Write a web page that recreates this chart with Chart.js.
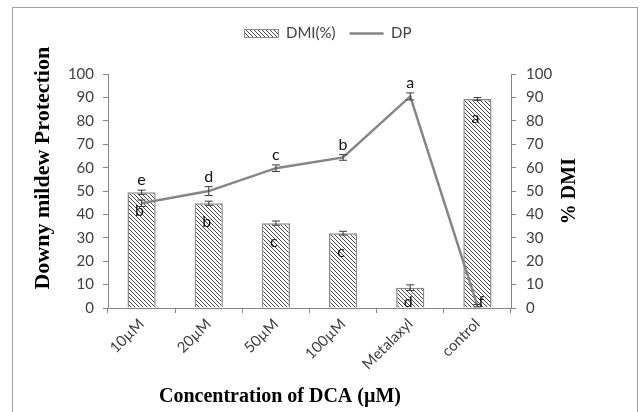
<!DOCTYPE html>
<html>
<head>
<meta charset="utf-8">
<script src="https://cdn.jsdelivr.net/npm/chart.js@4"></script>
<style>
  body { margin: 0; background: #fff; }
</style>
</head>
<body>
<canvas id="dcaChart" width="640" height="412"></canvas>
<script>
const categories = ['10µM', '20µM', '50µM', '100µM', 'Metalaxyl', 'control'];
const dmiValues = [49.5, 44.8, 36.3, 32.0, 8.7, 89.4];
const dmiErrors = [0.9, 0.9, 0.9, 0.8, 1.2, 0.6];
const dpValues = [44.8, 50.0, 59.8, 64.4, 90.5, 1.0];
const dpErrors = [1.4, 1.9, 1.4, 1.2, 1.5, 0.5];
const dmiLetters = ['b', 'b', 'c', 'c', 'd', 'a'];
const dpLetters = ['e', 'd', 'c', 'b', 'a', 'f'];

const axisGray = '#868686';
const tickFont = {family: 'Lato', size: 15};
const serif = 'bold {s}px "Liberation Serif", "Times New Roman", serif';

// hatch for the DMI bars
function makeHatch() {
    const pc = document.createElement('canvas');
    pc.width = pc.height = 4;
    const g = pc.getContext('2d');
    g.fillStyle = '#fff';
    g.fillRect(0, 0, 4, 4);
    g.strokeStyle = '#4a4a4a';
    g.lineWidth = 1;
    g.beginPath();
    g.moveTo(0, 0); g.lineTo(4, 4);
    g.moveTo(-1, 3); g.lineTo(1, 5);
    g.moveTo(3, -1); g.lineTo(5, 1);
    g.stroke();
    return g.createPattern(pc, 'repeat');
}
const hatch = makeHatch();

// white background, outer frame and the three axis titles
const frame = {
    id: 'frame',
    beforeDraw(chart) {
        const c = chart.ctx;
        c.save();
        c.fillStyle = '#fff';
        c.fillRect(0, 0, chart.width, chart.height);
        c.strokeStyle = '#a0a0a0';
        c.lineWidth = 1;
        c.strokeRect(12.5, 7.5, 625, 500);
        c.restore();
    },
    afterDraw(chart) {
        const c = chart.ctx;
        const a = chart.chartArea;
        c.save();
        c.fillStyle = '#000';
        c.textAlign = 'center';
        c.textBaseline = 'middle';
        c.font = serif.replace('{s}', 20);
        c.fillText('Concentration of DCA (µM)', a.left + 172, 397);
        c.translate(43, a.top + 94);
        c.rotate(-Math.PI / 2);
        c.font = serif.replace('{s}', 22);
        c.fillText('Downy mildew Protection', 0, 0);
        c.restore();
        c.save();
        c.fillStyle = '#000';
        c.textAlign = 'center';
        c.textBaseline = 'middle';
        c.translate(570, (a.top + a.bottom) / 2);
        c.rotate(-Math.PI / 2);
        c.font = serif.replace('{s}', 20);
        c.fillText('% DMI', 0, 0);
        c.restore();
    }
};

const errorsAndLetters = {
    id: 'errorsAndLetters',
    afterDatasetsDraw(chart) {
        const c = chart.ctx;
        const yl = chart.scales.y, yr = chart.scales.y2;
        const barMeta = chart.getDatasetMeta(0);
        const lineMeta = chart.getDatasetMeta(1);
        c.save();
        c.strokeStyle = '#3a3a3a';
        c.lineWidth = 1;
        const whisker = (x, y1, y2) => {
            c.beginPath();
            c.moveTo(x, y1); c.lineTo(x, y2);
            c.moveTo(x - 4, y1); c.lineTo(x + 4, y1);
            c.moveTo(x - 4, y2); c.lineTo(x + 4, y2);
            c.stroke();
        };
        categories.forEach((_, i) => {
            const bx = barMeta.data[i].x;
            whisker(bx, yr.getPixelForValue(dmiValues[i] + dmiErrors[i]), yr.getPixelForValue(dmiValues[i] - dmiErrors[i]));
            const lx = lineMeta.data[i].x;
            whisker(lx, yl.getPixelForValue(dpValues[i] + dpErrors[i]), yl.getPixelForValue(Math.max(0, dpValues[i] - dpErrors[i])));
        });
        c.fillStyle = '#111';
        c.font = '16px Lato';
        c.textAlign = 'center';
        c.textBaseline = 'middle';
        categories.forEach((_, i) => {
            const bx = barMeta.data[i].x;
            const base = yr.getPixelForValue(0);
            // letter inside the bar
            const by = Math.min(yr.getPixelForValue(dmiValues[i]) + 19, base - 6);
            c.fillText(dmiLetters[i], bx - 2, by);
            // letter over the DP point
            if (dpValues[i] < 5) {
                c.fillText(dpLetters[i], bx + 4, base - 6);
            } else {
                const top = Math.max(dpValues[i] + dpErrors[i], dmiValues[i] + dmiErrors[i]);
                c.fillText(dpLetters[i], bx, yl.getPixelForValue(top) - 10);
            }
        });
        c.restore();
    }
};

const yAxis = (position, width) => ({
    position: position,
    min: 0,
    max: 100,
    grid: {display: true, drawOnChartArea: false, tickLength: 5, color: axisGray},
    border: {display: true, color: axisGray},
    ticks: {stepSize: 10, color: '#404040', font: tickFont, padding: position === 'left' ? 9 : 10},
    afterFit: s => { s.width = width; }
});

new Chart(document.getElementById('dcaChart').getContext('2d'), {
    type: 'bar',
    data: {
        labels: categories,
        datasets: [
            {
                type: 'bar',
                label: 'DMI(%)',
                data: dmiValues,
                yAxisID: 'y2',
                backgroundColor: hatch,
                borderColor: '#8a8a8a',
                borderWidth: 1.5,
                barPercentage: 0.42,
                categoryPercentage: 1,
                order: 2
            },
            {
                type: 'line',
                label: 'DP',
                data: dpValues,
                yAxisID: 'y',
                borderColor: '#858585',
                borderWidth: 2.5,
                pointRadius: 0,
                tension: 0,
                fill: false,
                order: 1
            }
        ]
    },
    options: {
        responsive: false,
        animation: false,
        layout: {padding: {left: 16, right: 0, top: 12, bottom: 0}},
        plugins: {
            tooltip: {enabled: false},
            // empty title only used as a spacer under the legend
            title: {display: true, text: '', font: {size: 1}, padding: {top: 0, bottom: 22}},
            legend: {
                position: 'top',
                weight: 3000,
                labels: {
                    usePointStyle: true,
                    pointStyleWidth: 34,
                    boxHeight: 8,
                    padding: 14,
                    color: '#404040',
                    font: tickFont,
                    generateLabels: chart => chart.data.datasets.map((ds, i) => ({
                        text: ds.label,
                        fillStyle: ds.type === 'line' ? 'rgba(0,0,0,0)' : ds.backgroundColor,
                        strokeStyle: ds.borderColor,
                        lineWidth: ds.type === 'line' ? 2.5 : 1,
                        pointStyle: ds.type === 'line' ? 'line' : 'rect',
                        fontColor: '#404040',
                        hidden: false,
                        datasetIndex: i
                    }))
                }
            }
        },
        scales: {
            x: {
                grid: {display: true, drawOnChartArea: false, tickLength: 5, color: axisGray, offset: true},
                border: {display: true, color: axisGray},
                ticks: {minRotation: 45, maxRotation: 45, color: '#404040', font: tickFont, padding: 2},
                afterFit: s => { s.height = 104; }
            },
            y: yAxis('left', 92),
            y2: yAxis('right', 129)
        }
    },
    plugins: [frame, errorsAndLetters]
});
</script>
</body>
</html>
